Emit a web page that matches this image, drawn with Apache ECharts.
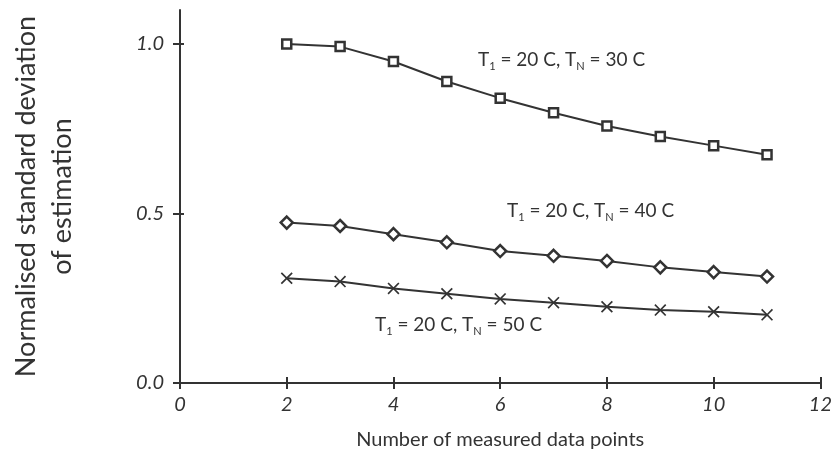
<!DOCTYPE html>
<html>
<head>
<meta charset="utf-8">
<script src="https://cdn.jsdelivr.net/npm/echarts@6/dist/echarts.min.js"></script>
<style>
  html, body { margin: 0; padding: 0; background: #fff; }
  #main { width: 835px; height: 460px; }
</style>
</head>
<body>
<div id="main"></div>
<script>
// Number of measured data points
const points = [2, 3, 4, 5, 6, 7, 8, 9, 10, 11];
// Normalised standard deviation for each temperature pair
const tn30 = [1.0, 0.992, 0.948, 0.889, 0.840, 0.797, 0.758, 0.727, 0.700, 0.673];
const tn40 = [0.473, 0.463, 0.439, 0.415, 0.389, 0.375, 0.360, 0.341, 0.327, 0.314];
const tn50 = [0.309, 0.299, 0.279, 0.263, 0.248, 0.237, 0.225, 0.215, 0.210, 0.201];
const xTicks = [0, 2, 4, 6, 8, 10, 12];
const yTicks = [0, 0.5, 1.0];

const ink = "#333";
const font = "Lato";
const crossPath = "path://M0,1L1,0L5,4L9,0L10,1L6,5L10,9L9,10L5,6L1,10L0,9L4,5Z";

let myChart = echarts.init(document.getElementById("main"));

function pairs(ys) {
  return points.map((x, i) => [x, ys[i]]);
}

function series(name, ys, symbol, size) {
  return {
    name: name,
    type: "line",
    data: pairs(ys),
    symbol: symbol,
    symbolSize: size,
    showAllSymbol: true,
    lineStyle: { color: ink, width: 2 },
    itemStyle: {
      color: symbol === crossPath ? ink : "#fff",
      borderColor: ink,
      borderWidth: symbol === crossPath ? 0 : 2.5
    },
    emphasis: { disabled: true },
    z: 3
  };
}

function label(n, left, top) {
  return {
    type: "text",
    left: left,
    top: top,
    style: {
      text: "{t|T}{s|1}{t| = 20 C, T}{s|N}{t| = " + n + " C}",
      rich: {
        t: { fontFamily: font, fontSize: 19, fill: ink, verticalAlign: "bottom", lineHeight: 22, padding: [0, 0, 3, 0] },
        s: { fontFamily: font, fontSize: 11, fill: ink, verticalAlign: "bottom", lineHeight: 14 }
      }
    }
  };
}

// second copy of each axis only draws the inner half of the ticks
function innerTicks(type, max, ticks, length) {
  return {
    type: "value",
    min: 0,
    max: max,
    position: type === "x" ? "bottom" : "left",
    axisLine: { show: false },
    axisTick: { inside: true, customValues: ticks, length: length, lineStyle: { color: ink, width: 2 } },
    axisLabel: { show: false },
    splitLine: { show: false }
  };
}

let options = {
  animation: false,
  backgroundColor: "#fff",
  grid: { left: 157, right: 5, top: 10, bottom: 77 },
  xAxis: [
    {
      type: "value",
      min: 0,
      max: 12,
      name: "Number of measured data points",
      nameLocation: "middle",
      nameGap: 47,
      nameTextStyle: { fontFamily: font, fontSize: 20, color: ink },
      axisLine: { onZero: false, lineStyle: { color: ink, width: 2 } },
      axisTick: { customValues: xTicks, length: 6, lineStyle: { color: ink, width: 2 } },
      axisLabel: {
        customValues: xTicks,
        margin: 12,
        fontFamily: font,
        fontStyle: "italic",
        fontSize: 20,
        color: ink
      },
      splitLine: { show: false }
    },
    innerTicks("x", 12, xTicks, 6)
  ],
  yAxis: [
    {
      type: "value",
      min: 0,
      max: 1.1,
      name: "Normalised standard deviation\nof estimation",
      nameLocation: "middle",
      nameGap: 100,
      nameTextStyle: { fontFamily: font, fontSize: 27, color: ink, lineHeight: 36 },
      axisLine: { lineStyle: { color: ink, width: 2 } },
      axisTick: { customValues: yTicks, length: 7, lineStyle: { color: ink, width: 2 } },
      axisLabel: {
        customValues: yTicks,
        margin: 16,
        fontFamily: font,
        fontStyle: "italic",
        fontSize: 20,
        color: ink,
        formatter: (v) => v.toFixed(1)
      },
      splitLine: { show: false }
    },
    innerTicks("y", 1.1, yTicks, 4)
  ],
  series: [
    series("T1 = 20 C, TN = 30 C", tn30, "rect", 9),
    series("T1 = 20 C, TN = 40 C", tn40, "diamond", 12),
    series("T1 = 20 C, TN = 50 C", tn50, crossPath, 12)
  ],
  graphic: [
    label(30, 478, 50),
    label(40, 507, 201),
    label(50, 375, 315)
  ]
};
myChart.setOption(options);
</script>
</body>
</html>
